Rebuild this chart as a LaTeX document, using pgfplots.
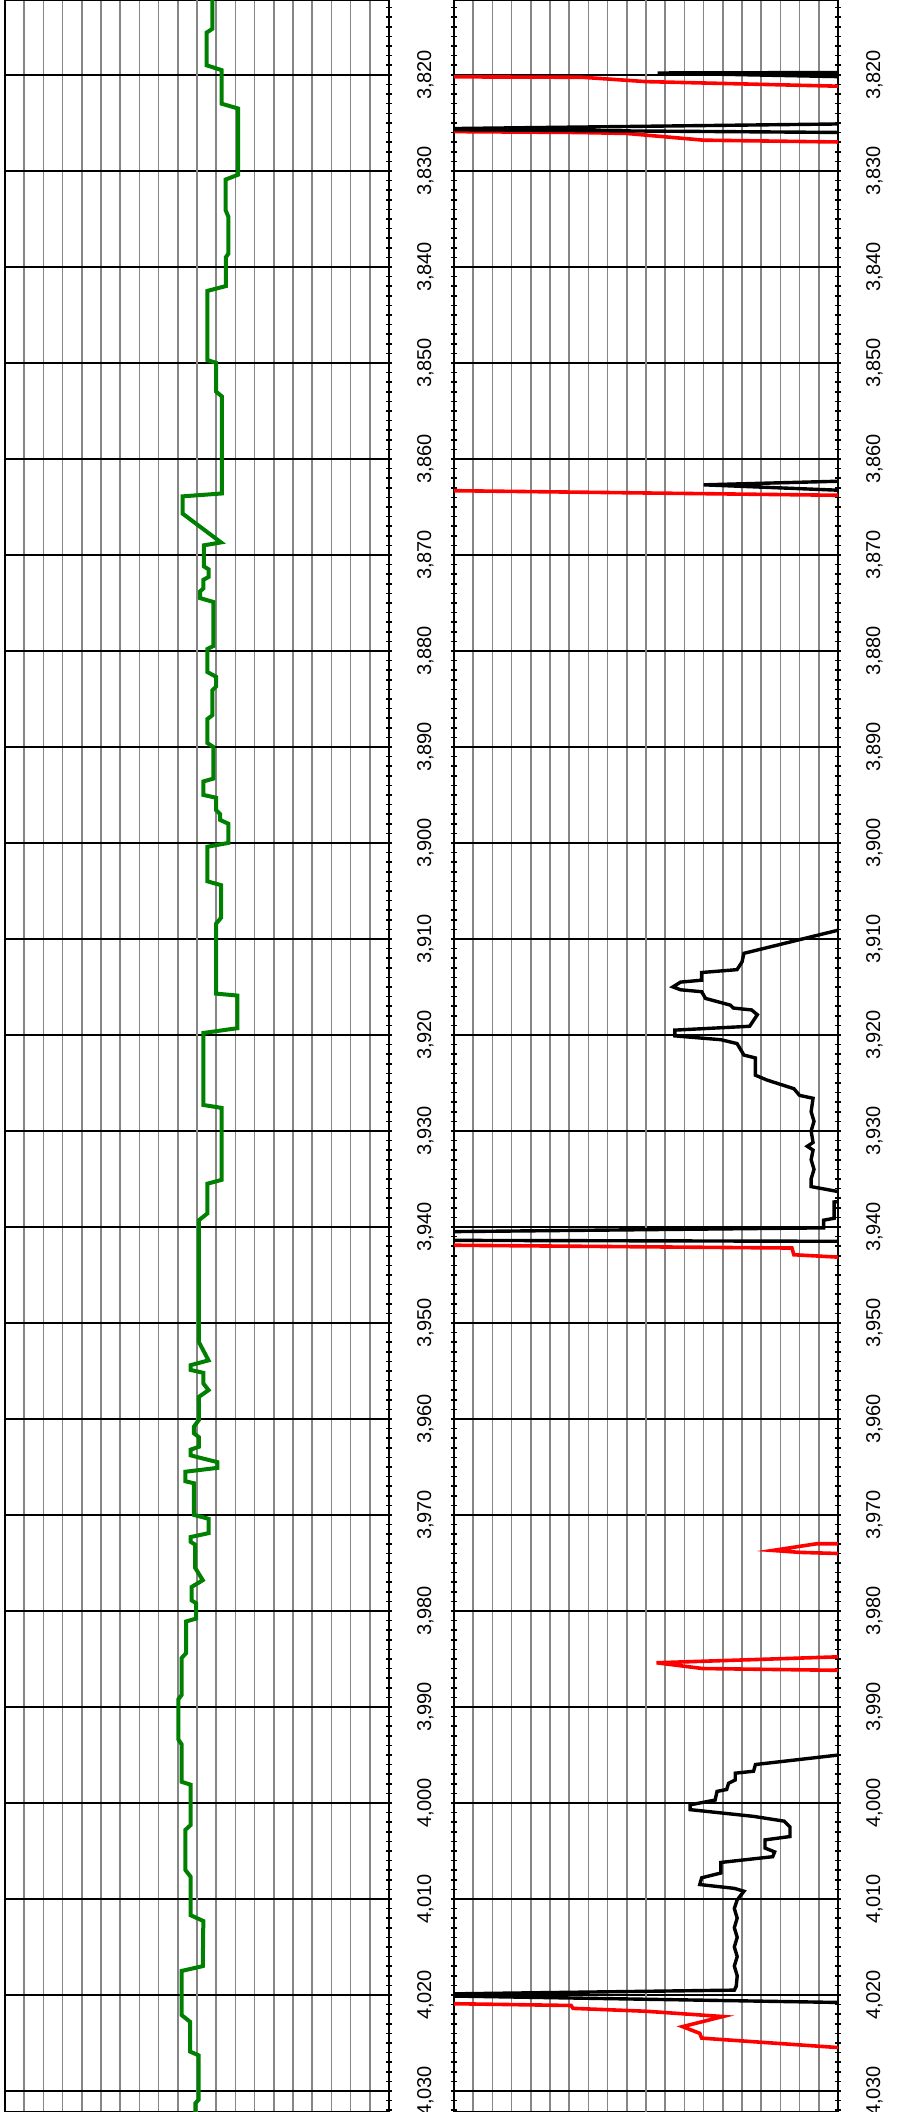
\documentclass[border=0pt]{standalone}
\usepackage{pgfplots}
\pgfplotsset{compat=1.18}
\usepackage{fontspec}
\setmainfont{Liberation Sans}
\pgfplotsset{
  logtrack/.style={
    scale only axis, width=192pt, height=1056pt,
    xmin=0, xmax=20, ymin=3812.2, ymax=4032.2, y dir=reverse,
    xtick={0,...,20}, xticklabels={}, xtick style={draw=none},
    xmajorgrids, x grid style={gray!95, line width=0.75pt},
    ytick={3810,3820,...,4040}, ymajorgrids, y grid style={black, line width=0.9pt},
    minor y tick num=9, ytick pos=both, tick align=center,
    major tick length=3pt, minor tick length=3pt,
    y tick style={black, line width=0.8pt},
    yticklabel pos=right,
    yticklabel style={rotate=90, anchor=north, font=\fontsize{10}{12}\selectfont},
    yticklabel shift=9pt,
    /pgf/number format/assume math mode=true,
    /pgf/number format/1000 sep={,},
    axis line style={black, line width=1pt},
    extra x ticks={10}, extra x tick labels={}, extra x tick style={grid style={black, line width=1.8pt}},
    extra y ticks={3900,4000}, extra y tick labels={}, extra y tick style={grid style={black, line width=1.8pt}},
    unbounded coords=jump,
    clip=true,
  }
}
\begin{document}
\begin{tikzpicture}[x=1pt,y=1pt]
\path[use as bounding box] (0,0) rectangle (448,-1056);
\begin{axis}[logtrack, ytick pos=right, at={(2.5pt,0pt)}, anchor=north west]
\addplot[color={rgb,255:red,0;green,128;blue,0}, line width=2pt] coordinates {
(10.8,3812.2)(10.8,3815.2)(10.5,3815.6)(10.5,3819.0)(11.28,3819.5)(11.28,3823.0)(12.14,3823.5)(12.14,3830.4)
(11.49,3830.9)(11.49,3834.1)(11.64,3834.8)(11.64,3838.6)(11.5,3839.0)(11.5,3842.0)(10.54,3842.5)(10.54,3849.7)
(11.0,3850.0)(11.0,3853.0)(11.3,3853.5)(11.3,3863.6)(9.25,3863.9)(9.25,3865.7)(11.25,3868.7)(10.36,3869.0)
(10.36,3871.2)(10.6,3871.5)(10.6,3872.3)(10.33,3872.6)(10.33,3873.5)(10.16,3873.8)(10.16,3874.5)(10.85,3874.9)
(10.85,3879.5)(10.54,3879.8)(10.54,3882.2)(11.0,3882.7)(11.0,3883.7)(10.8,3884.1)(10.8,3886.7)(10.54,3887.1)
(10.54,3889.6)(10.85,3890.0)(10.85,3893.3)(10.33,3893.6)(10.33,3895.0)(11.0,3895.3)(11.0,3896.6)(11.2,3897.0)
(11.2,3897.6)(11.63,3898.0)(11.63,3900.0)(10.54,3900.4)(10.54,3904.0)(11.25,3904.4)(11.25,3907.8)(11.0,3908.4)
(11.0,3915.7)(12.1,3915.9)(12.1,3919.3)(10.33,3919.8)(10.33,3927.3)(11.28,3927.6)(11.28,3935.1)(10.54,3935.5)
(10.54,3938.6)(10.1,3939.3)(10.1,3952.0)(10.6,3953.9)(9.67,3954.4)(9.67,3954.9)(10.33,3955.2)(10.33,3956.3)
(10.6,3957.0)(10.1,3957.7)(10.1,3960.1)(9.84,3960.8)(9.84,3961.5)(10.1,3961.9)(10.1,3962.9)(9.67,3963.2)
(9.67,3963.8)(11.06,3964.5)(11.06,3965.1)(9.4,3965.5)(9.4,3966.5)(9.84,3966.7)(9.84,3970.0)(10.6,3970.4)
(10.6,3971.9)(9.67,3972.3)(9.67,3972.8)(9.9,3973.1)(9.9,3975.5)(10.3,3976.8)(9.72,3977.5)(9.72,3978.9)
(9.95,3979.2)(9.95,3980.8)(9.43,3981.1)(9.43,3984.4)(9.2,3984.9)(9.2,3988.75)(9.03,3989.2)(9.03,3993.4)
(9.2,3993.9)(9.2,3997.8)(9.67,3998.1)(9.67,4002.3)(9.4,4002.8)(9.4,4007.0)(9.67,4007.7)(9.67,4011.7)
(10.33,4012.3)(10.3,4017.0)(9.2,4017.5)(9.2,4022.1)(9.64,4022.8)(9.64,4025.9)(10.09,4026.3)(10.09,4030.9)
(9.91,4031.3)(9.91,4032.2)};
\end{axis}
\begin{axis}[logtrack, at={(227pt,0pt)}, anchor=north west]
\addplot[red, line width=1.8pt] coordinates {
(-0.5,3820.2)(6.7,3820.25)(10,3820.7)(20.5,3821.2)(nan,nan)
(-0.5,3825.9)(6.5,3826.0)(9.0,3826.1)(13,3826.8)(20.5,3827.0)(nan,nan)
(-0.5,3863.3)(20.5,3863.8)(nan,nan)
(-0.5,3941.9)(17.6,3942.2)(17.7,3942.9)(20.5,3943.2)(nan,nan)
(20.5,3973.0)(18.9,3973.0)(16.6,3973.7)(18.0,3973.9)(20.5,3974.05)(nan,nan)
(20.5,3984.75)(10.55,3985.4)(12.95,3986.0)(20.5,3986.2)(nan,nan)
(-0.5,4020.9)(6.1,4021.1)(6.2,4021.4)(10,4021.7)(14,4022.25)(11.9,4023.3)(12.8,4024.0)(12.9,4024.5)(20.5,4025.55)};
\addplot[black, line width=1.7pt] coordinates {
(20.5,3819.75)(10.6,3819.8)(20.5,3820.2)(nan,nan)
(20.5,3825.1)(-0.5,3825.6)(-0.5,3825.7)(20.5,3826.0)(nan,nan)
(20.5,3862.3)(13.0,3862.7)(20.5,3863.3)(nan,nan)
(20.5,3908.85)(15.1,3911.5)(15.0,3912.4)(14.74,3913.2)(12.9,3913.5)(12.9,3914.3)(11.8,3914.5)(11.4,3915.0)
(11.8,3915.3)(12.9,3915.5)(13.1,3916.2)(14.4,3916.9)(14.55,3917.2)(15.5,3917.4)(15.8,3917.9)(15.4,3919.1)
(11.5,3919.5)(11.5,3920.1)(13.9,3920.5)(14.74,3920.9)(15.1,3922.1)(15.7,3922.4)(15.7,3924.2)(16.3,3924.7)
(17.7,3925.6)(18.0,3926.3)(18.7,3926.6)(18.6,3928)(18.75,3929)(18.6,3930)(18.7,3931.2)(18.4,3931.6)
(18.7,3932.0)(18.6,3933)(18.75,3934)(18.6,3935)(18.6,3935.8)(20.5,3936.5)(nan,nan)
(20.5,3937.3)(19.8,3937.4)(19.8,3939.1)(19.25,3939.3)(19.25,3940.1)(-0.5,3940.5)(-0.5,3941.4)(20.5,3941.5)(nan,nan)
(20.5,3994.9)(15.7,3996.0)(15.6,3996.7)(14.65,3996.9)(14.65,3997.6)(14.3,3997.95)(14.2,3998.6)(13.7,3998.8)
(13.6,3999.7)(12.3,4000.2)(12.3,4000.7)(15.6,4001.4)(17.2,4001.9)(17.5,4002.5)(17.5,4003.5)(16.2,4003.85)
(16.2,4004.7)(16.7,4005.1)(16.6,4005.6)(13.9,4006.2)(13.9,4007.3)(12.9,4007.8)(12.8,4008.5)(14.6,4008.9)
(15.1,4009.2)(14.75,4010.1)(14.6,4011)(14.75,4012)(14.6,4013)(14.75,4014)(14.6,4015)(14.75,4016)
(14.6,4017)(14.75,4018)(14.7,4019.1)(14.6,4019.5)(-0.5,4019.9)(-0.5,4020.1)(20.5,4020.8)};
\end{axis}
\end{tikzpicture}
\end{document}
